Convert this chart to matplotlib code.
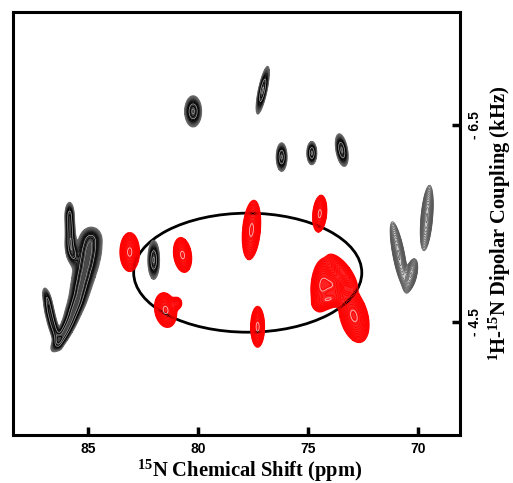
import numpy as np
import matplotlib
matplotlib.use("Agg")
import matplotlib.pyplot as plt
from matplotlib.patches import Ellipse
from matplotlib.colors import ListedColormap

plt.rcParams['mathtext.fontset'] = 'custom'
plt.rcParams['mathtext.rm'] = 'Liberation Serif:bold'
plt.rcParams['mathtext.it'] = 'Liberation Serif:bold'
plt.rcParams['mathtext.bf'] = 'Liberation Serif:bold'

# ---- data ----
# peaks: 15N shift (ppm), 1H-15N coupling (kHz), half-width (ppm), half-height (kHz), tilt (deg), intensity
red_ppm  = [83.10, 80.70, 81.47, 80.96, 77.57, 74.47, 77.29, 74.38, 73.42, 74.01, 73.88, 72.92]
red_khz  = [-5.21, -5.18, -4.62, -4.69, -5.434, -5.60, -4.45, -4.876, -5.008, -4.723, -4.876, -4.561]
red_w    = [0.45, 0.41, 0.50, 0.27, 0.41, 0.32, 0.32, 0.50, 0.38, 0.38, 0.55, 0.64]
red_h    = [0.20, 0.18, 0.18, 0.07, 0.305, 0.19, 0.21, 0.275, 0.23, 0.17, 0.17, 0.28]
red_tilt = [0, -8, -10, 0, 5, 5, 0, 5, -37, 72, 0, -15]
red_amp  = [1.0, 1.0, 1.0, 0.5, 1.0, 1.0, 1.0, 0.9, 0.7, 0.7, 0.8, 1.0]

# black: five upper peaks and the one inside the ellipse
blk_ppm  = [80.22, 77.06, 76.20, 74.83, 73.47, 82.01]
blk_khz  = [-6.64, -6.855, -6.175, -6.216, -6.246, -5.13]
blk_w    = [0.39, 0.20, 0.25, 0.23, 0.27, 0.27]
blk_h    = [0.16, 0.25, 0.147, 0.12, 0.17, 0.20]
blk_tilt = [0, 12, 0, 0, -10, 0]
blk_amp  = [1.0, 1.0, 1.0, 1.0, 1.0, 1.0]

# J-shaped black ridge on the left (tail, body, left arm)
j_ppm  = [85.832, 85.809, 85.786, 85.70,
          84.877, 84.968, 85.059, 85.195, 85.332, 85.468, 85.650, 85.832, 86.059, 86.286,
          86.832, 86.741, 86.605, 86.423]
j_khz  = [-5.586, -5.454, -5.322, -5.20,
          -5.332, -5.211, -5.089, -4.967, -4.845, -4.723, -4.612, -4.500, -4.398, -4.307,
          -4.723, -4.601, -4.480, -4.358]
j_w    = [0.227, 0.227, 0.25, 0.30,
          0.545, 0.59, 0.56, 0.52, 0.47, 0.42, 0.37, 0.33, 0.30, 0.28,
          0.205, 0.227, 0.227, 0.227]
j_h    = [0.142] * 18
j_tilt = [0, 0, 0, -10,
          12, 12, 12, 12, 15, 20, 24, 28, 32, 35,
          -14, -14, -14, -14]
j_amp  = [0.7, 0.75, 0.75, 0.75,
          0.75, 0.8, 0.8, 0.8, 0.8, 0.8, 0.8, 0.75, 0.75, 0.7,
          0.6, 0.65, 0.65, 0.65]

gry_ppm  = [70.88, 70.33, 69.61]
gry_khz  = [-5.18, -4.977, -5.556]
gry_w    = [0.27, 0.27, 0.27]
gry_h    = [0.345, 0.17, 0.335]
gry_tilt = [-11, 13, 5]
gry_amp  = [1.0, 1.0, 1.0]

# region of interest ellipse: center ppm, center kHz, width ppm, height kHz
roi = (77.74, -5.0, 10.36, 1.21)

x_ticks = [85, 80, 75, 70]
x_ticklabels = ["85", "80", "75", "70"]
y_ticks = [-6.5, -4.5]
y_ticklabels = ["- 6.5", "- 4.5"]
xlim = (88.4, 68.1)
ylim = (-3.35, -7.65)

# ---- figure ----
W, H = 513, 483
fig = plt.figure(figsize=(W / 100, H / 100), dpi=100)
ax = fig.add_axes([13 / W, 1 - 435 / H, (460 - 13) / W, (435 - 12) / H])
ax.set_xlim(*xlim)
ax.set_ylim(*ylim)

px_per_ppm = (460 - 13) / abs(xlim[1] - xlim[0])
px_per_khz = (435 - 12) / abs(ylim[1] - ylim[0])

P, K = np.meshgrid(np.linspace(xlim[1], xlim[0], 800), np.linspace(ylim[1], ylim[0], 800))

def field(pp, kk, ww, hh, tt, aa):
    Z = np.zeros_like(P)
    for p0, k0, w, h, t, a in zip(pp, kk, ww, hh, tt, aa):
        X = -(P - p0) * px_per_ppm
        Y = -(K - k0) * px_per_khz
        r = np.radians(t)
        al = X * np.sin(r) + Y * np.cos(r)
        ac = X * np.cos(r) - Y * np.sin(r)
        sa = h * px_per_khz / 2.15
        sc = w * px_per_ppm / 2.15
        Z += a * np.exp(-0.5 * ((al / sa) ** 2 + (ac / sc) ** 2))
    return np.minimum(Z, 1.2)

def fill(Z, color, alpha):
    ax.pcolormesh(P, K, np.ma.masked_less(Z, 0.1), cmap=ListedColormap([color]),
                  shading='auto', alpha=alpha, rasterized=True, linewidth=0)

levels = np.geomspace(0.1, 1.15, 14)
Zr = field(red_ppm, red_khz, red_w, red_h, red_tilt, red_amp)
Zb = field(blk_ppm + j_ppm, blk_khz + j_khz, blk_w + j_w, blk_h + j_h,
           blk_tilt + j_tilt, blk_amp + j_amp)
Zg = field(gry_ppm, gry_khz, gry_w, gry_h, gry_tilt, gry_amp)

fill(Zr, '#ff0a0a', 0.9)
ax.contour(P, K, Zr, levels=levels, colors='#ff0000', linewidths=0.6)
ax.contour(P, K, Zr, levels=[0.9], colors='#ffb8b8', linewidths=0.6)
fill(Zb, '#1a1a1a', 0.8)
ax.contour(P, K, Zb, levels=levels, cmap='Greys', vmin=-0.4, vmax=0.4, linewidths=0.6)
ax.contour(P, K, Zb, levels=[0.6, 0.95], colors='#aaaaaa', linewidths=0.5)
fill(Zg, '#888888', 0.4)
ax.contour(P, K, Zg, levels=levels, colors='#555555', linewidths=0.5)

ax.add_patch(Ellipse((roi[0], roi[1]), roi[2], roi[3], fill=False, edgecolor='black', lw=2.0))

for s in ax.spines.values():
    s.set_linewidth(2.2)

ax.set_xticks(x_ticks)
ax.set_xticklabels(x_ticklabels, fontfamily='Liberation Sans', fontweight='bold', fontsize=10)
ax.yaxis.tick_right()
ax.set_yticks(y_ticks)
ax.set_yticklabels(y_ticklabels, fontfamily='Liberation Sans', fontweight='bold', fontsize=10,
                   rotation=90, va='center')
ax.tick_params(axis='x', direction='in', length=6, width=2.5, pad=5, top=False)
ax.tick_params(axis='y', direction='in', length=6, width=2.5, pad=6, left=False, right=True)

ax.set_xlabel(r"$^{15}$N Chemical Shift (ppm)", fontfamily='Liberation Serif', fontweight='bold',
              fontsize=14.8)
ax.xaxis.set_label_coords(0.529, -0.055, transform=ax.transAxes)
ax.xaxis.label.set_va('top')
ax.yaxis.set_label_position('right')
ax.set_ylabel(r"$^{1}$H-$^{15}$N Dipolar Coupling (kHz)", fontfamily='Liberation Serif',
              fontweight='bold', fontsize=14.8, rotation=90, labelpad=3)

fig.savefig("out.png", dpi=100)
